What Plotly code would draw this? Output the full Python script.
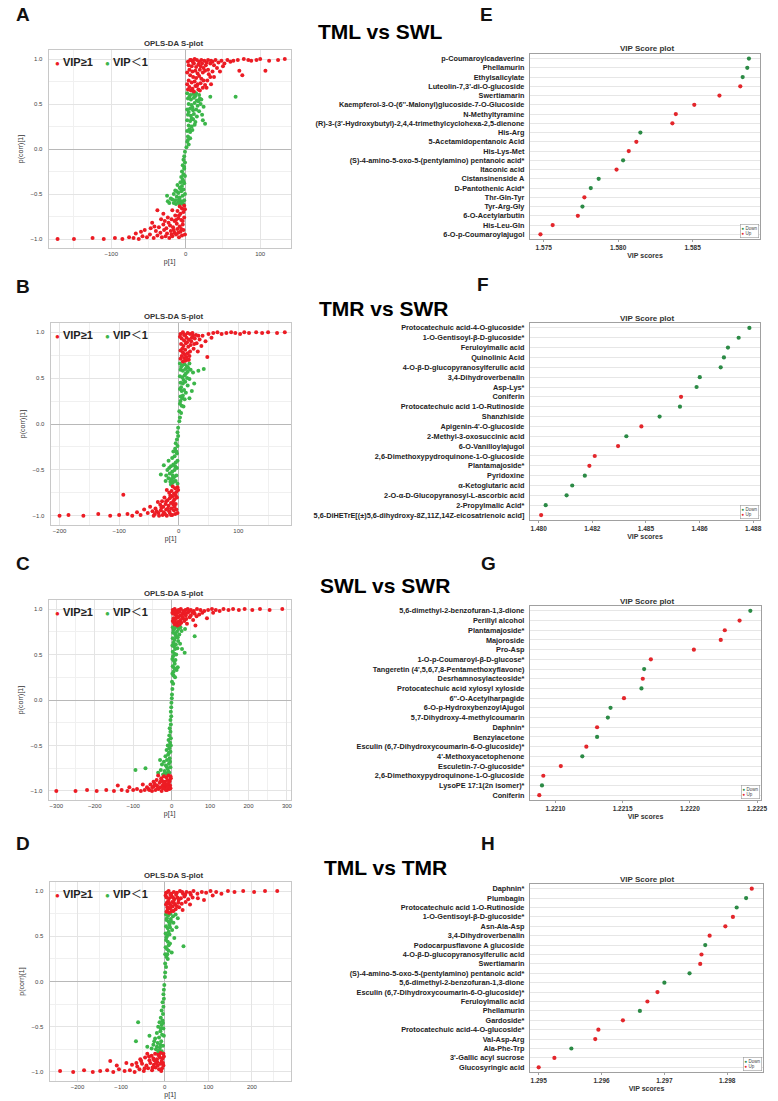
import plotly.graph_objects as go

W, H = 778, 1101
FONT = "Liberation Sans, Arial, Noto Sans CJK SC, sans-serif"
RED = "#ec1c24"
GREEN = "#3cb64a"
VRED = "#e3262b"
VGREEN = "#2b8a45"

# ---------------- S-plot data (p[1], p(corr)[1]) ----------------
A_red = [(3,0.97),(6,0.99),(9,0.98),(12,1.0),(15,0.99),(18,0.97),(21,0.99),(25,0.98),(28,0.96),(4,0.93),
         (8,0.92),(11,0.95),(14,0.91),(17,0.94),(20,0.92),(24,0.9),(27,0.93),(5,0.88),(9,0.86),(13,0.87),
         (16,0.84),(19,0.88),(23,0.85),(6,0.82),(10,0.8),(14,0.79),(18,0.81),(21,0.78),(4,0.76),(8,0.74),
         (12,0.75),(16,0.72),(20,0.73),(5,0.69),(9,0.67),(13,0.7),(17,0.66),(11,0.64),(7,0.65),(24,0.76),
         (30,0.88),(33,0.95),(36,0.97),(40,0.99),(44,0.96),(48,0.98),(52,0.95),(56,0.99),(60,0.97),(64,0.98),
         (70,0.99),(78,1.0),(84,0.99),(88,0.98),(95,0.99),(100,1.0),(112,0.98),(124,0.99),(133,1.0),(72,0.87),
         (76,0.82),(107,0.87),(42,0.9),(46,0.86),(38,0.8),(50,0.92),(34,0.72),(28,0.68),
         (30,0.99),(34,0.98),(38,0.93),(26,0.87),(31,0.83),(36,0.86),(22,0.95),(2,0.85),(2,0.72),(26,0.71),
         (19,0.65),(10,0.96),(7,0.99),(15,0.7),(23,0.68),(3,0.66),(29,0.76),(33,0.8),
         (-2,-0.63),(-5,-0.66),(-8,-0.64),(-3,-0.7),(-7,-0.72),(-11,-0.69),(-14,-0.74),(-2,-0.76),(-6,-0.79),(-10,-0.77),
         (-15,-0.8),(-19,-0.78),(-23,-0.82),(-4,-0.84),(-8,-0.86),(-12,-0.83),(-17,-0.87),(-21,-0.85),(-26,-0.88),(-30,-0.84),
         (-3,-0.9),(-7,-0.92),(-11,-0.89),(-15,-0.93),(-20,-0.91),(-25,-0.94),(-29,-0.9),(-34,-0.93),(-5,-0.96),(-9,-0.98),
         (-13,-0.95),(-18,-0.97),(-22,-0.99),(-27,-0.97),(-32,-0.98),(-38,-0.96),(-43,-0.99),(-36,-0.87),(-40,-0.91),(-48,-0.95),
         (-52,-0.98),(-58,-0.97),(-63,-1.0),(-70,-0.99),(-76,-0.98),(-85,-1.0),(-95,-0.99),(-110,-1.0),(-125,-0.99),(-150,-1.0),
         (-172,-1.0),(-45,-0.82),(-55,-0.9),(-24,-0.76),(-18,-0.68),(-38,-0.68),(-30,-0.72),
         (-1,-0.67),(-4,-0.8),(-9,-0.74),(-13,-0.79),(-16,-0.9),(-1,-0.95),(-28,-0.8),(-33,-0.78),(-42,-0.86),(-47,-0.88),
         (-60,-0.92),(-67,-0.94),(-19,-0.95),(-6,-0.89),(-10,-0.93)]
A_green = [(2,0.62),(6,0.6),(10,0.61),(14,0.62),(18,0.6),(3,0.56),(7,0.55),(11,0.57),(15,0.54),(19,0.56),
           (4,0.5),(8,0.49),(12,0.51),(16,0.48),(20,0.5),(2,0.44),(6,0.45),(10,0.43),(14,0.44),(18,0.42),
           (3,0.38),(7,0.37),(11,0.39),(15,0.36),(2,0.32),(6,0.31),(10,0.33),(13,0.3),(4,0.26),(8,0.25),
           (12,0.27),(2,0.2),(6,0.19),(9,0.21),(3,0.14),(6,0.12),(2,0.08),(4,0.05),(1,0.02),(23,0.32),
           (26,0.28),(22,0.38),(33,0.58),(67,0.58),(24,0.47),(21,0.55),
           (5,0.58),(13,0.59),(17,0.53),(9,0.46),(4,0.41),(8,0.34),(5,0.22),(3,0.1),
           (-1,-0.03),(-2,-0.08),(-3,-0.12),(-1,-0.15),(-4,-0.18),(-2,-0.22),(-5,-0.25),(-3,-0.28),(-6,-0.31),(-1,-0.3),
           (-4,-0.34),(-7,-0.37),(-2,-0.38),(-5,-0.41),(-8,-0.43),(-3,-0.45),(-6,-0.47),(-10,-0.49),(-1,-0.5),(-4,-0.52),
           (-8,-0.54),(-12,-0.53),(-2,-0.57),(-6,-0.58),(-10,-0.59),(-14,-0.57),(-18,-0.56),(-3,-0.61),(-8,-0.62),(-13,-0.61),
           (-16,-0.5),(-20,-0.55),(-24,-0.58),(-11,-0.4),(-14,-0.46),(-25,-0.52),(-22,-0.6),
           (-2,-0.2),(-3,-0.36),(-7,-0.44),(-9,-0.56),(-5,-0.6),(-16,-0.6),(-12,-0.47)]

B_red = [(3,0.98),(7,1.0),(11,0.97),(15,0.99),(19,0.98),(24,0.96),(5,0.93),(9,0.91),(13,0.94),(17,0.92),
         (21,0.9),(27,0.93),(4,0.87),(8,0.85),(12,0.88),(16,0.84),(20,0.86),(3,0.8),(7,0.78),(11,0.81),
         (15,0.77),(19,0.79),(5,0.74),(9,0.72),(13,0.73),(17,0.7),(7,0.68),(11,0.69),(25,0.82),(30,0.88),
         (35,0.92),(32,0.79),(38,0.85),(45,0.9),(40,0.96),(50,0.98),(58,0.99),(65,1.0),(72,0.98),(80,0.99),
         (88,1.0),(95,0.99),(103,0.98),(110,1.0),(118,0.99),(130,1.0),(140,0.99),(150,1.0),(165,0.99),(178,1.0),
         (48,0.73),(55,0.94),
         (2,0.95),(9,0.97),(23,0.99),(29,0.97),(14,0.89),(22,0.94),(6,0.82),(18,0.74),(10,0.76),(3,0.71),
         (26,0.87),(33,0.96),(15,0.7),
         (-2,-0.69),(-6,-0.7),(-10,-0.68),(-4,-0.74),(-8,-0.76),(-12,-0.73),(-16,-0.75),(-20,-0.72),(-3,-0.8),(-7,-0.82),
         (-11,-0.79),(-15,-0.81),(-19,-0.83),(-24,-0.8),(-28,-0.84),(-5,-0.87),(-9,-0.88),(-13,-0.86),(-17,-0.89),(-22,-0.87),
         (-26,-0.9),(-31,-0.88),(-35,-0.85),(-4,-0.93),(-8,-0.94),(-12,-0.92),(-16,-0.95),(-21,-0.93),(-25,-0.96),(-30,-0.94),
         (-34,-0.97),(-39,-0.92),(-6,-0.98),(-11,-0.99),(-15,-0.97),(-20,-1.0),(-27,-0.99),(-33,-1.0),(-40,-0.98),(-44,-0.95),
         (-48,-0.9),(-52,-0.97),(-58,-0.93),(-64,-0.99),(-70,-0.96),(-78,-1.0),(-86,-0.98),(-93,-0.77),(-100,-0.99),(-115,-1.0),
         (-135,-0.98),(-160,-1.0),(-185,-0.99),(-200,-1.0),
         (-1,-0.72),(-5,-0.78),(-14,-0.78),(-9,-0.84),(-18,-0.92),(-2,-0.97),(-23,-0.98),(-29,-0.91),(-37,-0.95),(-42,-1.0),
         (-13,-0.99),(-7,-0.9),(-21,-0.84)]
B_green = [(2,0.66),(6,0.64),(10,0.65),(14,0.63),(18,0.66),(3,0.59),(7,0.58),(11,0.6),(15,0.57),(20,0.59),
           (24,0.56),(2,0.52),(6,0.51),(10,0.53),(14,0.5),(18,0.49),(3,0.45),(7,0.44),(11,0.46),(15,0.42),
           (2,0.38),(5,0.36),(9,0.37),(12,0.34),(3,0.3),(6,0.28),(10,0.27),(2,0.22),(5,0.2),(8,0.19),
           (1,0.14),(4,0.12),(2,0.07),(1,0.03),(42,0.6),(33,0.58),(26,0.44),(22,0.36),(18,0.28),
           (4,0.62),(12,0.55),(16,0.61),(8,0.48),(4,0.4),(7,0.31),(3,0.25),
           (-1,-0.04),(-2,-0.09),(-1,-0.13),(-3,-0.17),(-5,-0.21),(-2,-0.24),(-6,-0.27),(-9,-0.3),(-3,-0.32),(-7,-0.35),
           (-11,-0.37),(-2,-0.4),(-5,-0.42),(-9,-0.44),(-13,-0.46),(-3,-0.48),(-7,-0.5),(-11,-0.52),(-15,-0.54),(-19,-0.5),
           (-4,-0.56),(-8,-0.58),(-12,-0.6),(-17,-0.59),(-21,-0.56),(-5,-0.62),(-10,-0.64),(-14,-0.63),(-2,-0.65),(-25,-0.45),
           (-17,-0.4),(-30,-0.55),(-22,-0.62),
           (-4,-0.3),(-6,-0.46),(-10,-0.56),(-16,-0.48),(-8,-0.62),(-13,-0.66)]

C_red = [(3,0.99),(8,1.0),(13,0.98),(18,0.99),(24,1.0),(30,0.98),(36,0.99),(42,1.0),(50,0.99),(58,0.98),
         (66,1.0),(75,0.99),(85,0.98),(95,0.99),(105,1.0),(115,0.99),(125,0.98),(135,1.0),(148,0.99),(160,1.0),
         (175,0.99),(190,1.0),(210,0.99),(230,1.0),(255,0.99),(288,1.0),(4,0.95),(10,0.94),(16,0.96),(22,0.93),
         (28,0.95),(35,0.94),(42,0.96),(50,0.93),(60,0.95),(72,0.94),(5,0.9),(11,0.89),(17,0.91),(23,0.88),
         (30,0.9),(38,0.89),(47,0.91),(6,0.85),(12,0.84),(18,0.86),(25,0.85),(33,0.87),(8,0.83),(15,0.82),
         (40,0.84),(56,0.88),(92,0.9),(108,0.96),(62,0.82),
         (2,0.96),(7,0.97),(12,0.93),(20,0.97),(27,0.92),(33,0.97),(45,0.97),(55,0.96),(3,0.87),(9,0.86),
         (21,0.83),(14,0.91),(37,0.93),(65,0.92),(80,0.96),
         (-3,-0.84),(-8,-0.83),(-14,-0.85),(-20,-0.84),(-27,-0.86),(-35,-0.83),(-5,-0.89),(-11,-0.88),(-17,-0.9),(-24,-0.89),
         (-31,-0.91),(-39,-0.88),(-47,-0.9),(-4,-0.94),(-10,-0.93),(-16,-0.95),(-23,-0.94),(-30,-0.96),(-38,-0.94),(-46,-0.95),
         (-55,-0.93),(-64,-0.96),(-6,-0.98),(-12,-0.99),(-19,-0.97),(-26,-1.0),(-34,-0.98),(-42,-0.99),(-51,-1.0),(-60,-0.98),
         (-70,-0.99),(-80,-1.0),(-90,-0.98),(-100,-0.99),(-115,-1.0),(-130,-0.99),(-150,-1.0),(-170,-0.99),(-195,-1.0),(-220,-0.99),
         (-250,-1.0),(-300,-1.0),(-75,-0.93),(-110,-0.96),(-140,-0.94),
         (-2,-0.86),(-7,-0.91),(-13,-0.93),(-20,-0.92),(-9,-0.96),(-15,-0.99),(-22,-0.97),(-28,-0.89),(-36,-0.97),(-44,-0.92),
         (-3,-0.97),(-58,-0.99),(-50,-0.96)]
C_green = [(3,0.8),(8,0.79),(13,0.81),(18,0.78),(23,0.8),(4,0.74),(9,0.73),(14,0.75),(20,0.72),(26,0.76),
           (3,0.68),(7,0.66),(12,0.69),(17,0.65),(2,0.6),(6,0.59),(11,0.61),(15,0.57),(3,0.53),(7,0.51),
           (12,0.5),(2,0.45),(6,0.43),(10,0.44),(3,0.37),(7,0.35),(13,0.33),(2,0.29),(5,0.27),(9,0.25),
           (1,0.2),(4,0.18),(2,0.12),(1,0.06),(0.5,0.02),(60,0.7),(34,0.52),(22,0.62),(35,0.78),(16,0.36),(27,0.56),
           (5,0.77),(11,0.71),(16,0.69),(5,0.63),(9,0.56),(4,0.48),(8,0.4),(5,0.31),
           (-0.5,-0.03),(-1,-0.08),(-2,-0.13),(-1,-0.18),(-3,-0.22),(-2,-0.27),(-5,-0.31),(-3,-0.35),(-6,-0.39),(-2,-0.42),
           (-8,-0.44),(-4,-0.47),(-10,-0.5),(-6,-0.53),(-13,-0.55),(-3,-0.57),(-9,-0.6),(-16,-0.62),(-5,-0.64),(-12,-0.66),
           (-20,-0.68),(-7,-0.7),(-15,-0.72),(-25,-0.71),(-3,-0.74),(-10,-0.76),(-18,-0.78),(-28,-0.77),(-6,-0.8),(-14,-0.81),
           (-22,-0.82),(-94,-0.77),(-68,-0.75),(-35,-0.8),(-30,-0.66),
           (-2,-0.5),(-7,-0.58),(-4,-0.68),(-12,-0.74),(-8,-0.79),(-17,-0.8)]

D_red = [(3,0.98),(9,1.0),(15,0.97),(21,0.99),(28,0.98),(35,1.0),(42,0.97),(50,0.99),(58,0.98),(66,1.0),
         (75,0.97),(85,0.99),(95,0.98),(105,1.0),(118,0.99),(130,0.97),(145,1.0),(160,0.99),(180,1.0),(205,0.99),
         (230,1.0),(258,1.0),(4,0.93),(10,0.92),(16,0.94),(22,0.91),(29,0.93),(37,0.92),(45,0.94),(54,0.91),
         (64,0.93),(76,0.92),(5,0.87),(11,0.86),(17,0.88),(24,0.85),(31,0.87),(39,0.86),(48,0.88),(6,0.82),
         (12,0.81),(18,0.83),(25,0.8),(33,0.82),(4,0.77),(10,0.76),(16,0.78),(41,0.79),(58,0.85),(90,0.9),(110,0.95),
         (2,0.95),(7,0.99),(13,0.96),(19,0.93),(26,0.96),(32,0.9),(40,0.99),(8,0.89),(14,0.84),(21,0.87),
         (28,0.83),(3,0.85),(7,0.8),(20,0.78),(47,0.96),(60,0.96),
         (-3,-0.8),(-9,-0.79),(-15,-0.81),(-22,-0.8),(-30,-0.82),(-40,-0.8),(-5,-0.85),(-11,-0.84),(-18,-0.86),(-26,-0.85),
         (-35,-0.87),(-45,-0.84),(-56,-0.86),(-4,-0.9),(-10,-0.91),(-17,-0.89),(-25,-0.92),(-33,-0.9),(-42,-0.93),(-52,-0.91),
         (-63,-0.94),(-75,-0.92),(-6,-0.96),(-13,-0.97),(-21,-0.95),(-29,-0.98),(-38,-0.96),(-48,-0.99),(-58,-0.97),(-69,-1.0),
         (-80,-0.98),(-92,-0.99),(-105,-0.97),(-118,-1.0),(-132,-0.98),(-148,-0.99),(-165,-1.0),(-185,-0.98),(-210,-1.0),(-240,-0.99),
         (-88,-0.9),(-110,-0.93),(-125,-0.88),
         (-2,-0.83),(-7,-0.88),(-13,-0.82),(-20,-0.9),(-28,-0.95),(-8,-0.99),(-16,-0.93),(-36,-0.83),(-46,-0.96),(-54,-0.88),
         (-3,-0.93),(-24,-0.87),(-65,-0.9)]
D_green = [(3,0.74),(8,0.73),(13,0.75),(19,0.72),(25,0.74),(4,0.68),(9,0.66),(14,0.69),(20,0.65),(3,0.61),
           (7,0.59),(12,0.6),(17,0.57),(2,0.53),(6,0.51),(11,0.52),(3,0.46),(7,0.44),(12,0.42),(2,0.38),
           (5,0.36),(9,0.34),(1,0.3),(4,0.27),(7,0.25),(1,0.2),(3,0.16),(1,0.1),(0.5,0.05),(43,0.39),
           (30,0.7),(22,0.48),(16,0.32),(27,0.6),
           (5,0.7),(11,0.63),(15,0.66),(9,0.55),(4,0.49),(9,0.4),(6,0.3),
           (-1,-0.04),(-2,-0.09),(-3,-0.14),(-2,-0.19),(-5,-0.23),(-3,-0.28),(-7,-0.32),(-4,-0.36),(-9,-0.4),(-5,-0.43),
           (-12,-0.45),(-7,-0.48),(-15,-0.5),(-3,-0.52),(-10,-0.55),(-18,-0.57),(-6,-0.59),(-13,-0.62),(-22,-0.63),(-8,-0.66),
           (-16,-0.68),(-26,-0.7),(-4,-0.71),(-11,-0.73),(-20,-0.75),(-30,-0.74),(-7,-0.77),(-15,-0.78),(-61,-0.45),(-66,-0.66),
           (-35,-0.6),(-40,-0.72),
           (-4,-0.46),(-9,-0.52),(-2,-0.6),(-10,-0.7),(-18,-0.72),(-24,-0.66),(-12,-0.76)]

# ---------------- VIP score data (top row first) ----------------
E_names = ["p-Coumaroylcadaverine", "Phellamurin", "Ethylsalicylate", "Luteolin-7,3'-di-O-glucoside", "Swertiamarin",
           "Kaempferol-3-O-(6''-Malonyl)glucoside-7-O-Glucoside", "N-Methyltyramine",
           "(R)-3-(3'-Hydroxybutyl)-2,4,4-trimethylcyclohexa-2,5-dienone", "His-Arg", "5-Acetamidopentanoic Acid",
           "His-Lys-Met", "(S)-4-amino-5-oxo-5-(pentylamino) pentanoic acid*", "Itaconic acid", "Cistansinenside A",
           "D-Pantothenic Acid*", "Thr-Gln-Tyr", "Tyr-Arg-Gly", "6-O-Acetylarbutin", "His-Leu-Gln", "6-O-p-Coumaroylajugol"]
E_vip = [1.58878, 1.58867, 1.58836, 1.58820, 1.58680, 1.58511, 1.58387, 1.58364, 1.58149, 1.58122,
         1.58071, 1.58033, 1.57989, 1.57869, 1.57816, 1.57773, 1.57760, 1.57729, 1.57560, 1.57478]
E_dir = ["Down", "Down", "Down", "Up", "Up", "Up", "Up", "Up", "Down", "Up",
         "Up", "Down", "Up", "Down", "Down", "Up", "Down", "Up", "Up", "Up"]

F_names = ["Protocatechuic acid-4-O-glucoside*", "1-O-Gentisoyl-β-D-glucoside*", "Feruloylmalic acid", "Quinolinic Acid",
           "4-O-β-D-glucopyranosylferulic acid", "3,4-Dihydroverbenalin", "Asp-Lys*", "Coniferin",
           "Protocatechuic acid 1-O-Rutinoside", "Shanzhiside", "Apigenin-4'-O-glucoside", "2-Methyl-3-oxosuccinic acid",
           "6-O-Vanilloylajugol", "2,6-Dimethoxypydroquinone-1-O-glucoside", "Plantamajoside*", "Pyridoxine",
           "α-Ketoglutaric acid", "2-O-α-D-Glucopyranosyl-L-ascorbic acid", "2-Propylmalic Acid*",
           "5,6-DiHETrE[(±)5,6-dihydroxy-8Z,11Z,14Z-eicosatrienoic acid]"]
F_vip = [1.48786, 1.48746, 1.48706, 1.48691, 1.48679, 1.48601, 1.48589, 1.48531, 1.48527, 1.48451,
         1.48383, 1.48327, 1.48296, 1.48209, 1.48189, 1.48172, 1.48125, 1.48104, 1.48026, 1.48009]
F_dir = ["Down", "Down", "Down", "Down", "Down", "Down", "Down", "Up", "Down", "Down",
         "Up", "Down", "Up", "Up", "Up", "Down", "Down", "Down", "Down", "Up"]
F_ticks = [1.480, 1.482, 1.484, 1.486, 1.488]
F_ticktext = ["1.480", "1.482", "1.485", "1.486", "1.488"]

G_names = ["5,6-dimethyl-2-benzofuran-1,3-dione", "Perillyl alcohol", "Plantamajoside*", "Majoroside", "Pro-Asp",
           "1-O-p-Coumaroyl-β-D-glucose*", "Tangeretin (4',5,6,7,8-Pentamethoxyflavone)", "Desrhamnosylacteoside*",
           "Protocatechuic acid xylosyl xyloside", "6''-O-Acetylharpagide", "6-O-p-HydroxybenzoylAjugol",
           "5,7-Dihydroxy-4-methylcoumarin", "Daphnin*", "Benzylacetone",
           "Esculin (6,7-Dihydroxycoumarin-6-O-glucoside)*", "4'-Methoxyacetophenone", "Esculetin-7-O-glucoside*",
           "2,6-Dimethoxypydroquinone-1-O-glucoside", "LysoPE 17:1(2n isomer)*", "Coniferin"]
G_vip = [1.22245, 1.22237, 1.22226, 1.22223, 1.22203, 1.22171, 1.22166, 1.22165, 1.22164, 1.22151,
         1.22141, 1.22139, 1.22131, 1.22131, 1.22123, 1.22120, 1.22104, 1.22091, 1.22090, 1.22088]
G_dir = ["Down", "Up", "Up", "Up", "Up", "Up", "Down", "Up", "Down", "Up",
         "Down", "Down", "Up", "Down", "Up", "Down", "Up", "Up", "Down", "Up"]

H_names = ["Daphnin*", "Plumbagin", "Protocatechuic acid 1-O-Rutinoside", "1-O-Gentisoyl-β-D-glucoside*", "Asn-Ala-Asp",
           "3,4-Dihydroverbenalin", "Podocarpusflavone A glucoside", "4-O-β-D-glucopyranosylferulic acid", "Swertiamarin",
           "(S)-4-amino-5-oxo-5-(pentylamino) pentanoic acid*", "5,6-dimethyl-2-benzofuran-1,3-dione",
           "Esculin (6,7-Dihydroxycoumarin-6-O-glucoside)*", "Feruloylmalic acid", "Phellamurin", "Gardoside*",
           "Protocatechuic acid-4-O-glucoside*", "Val-Asp-Arg", "Ala-Phe-Trp", "3'-Gallic acyl sucrose", "Glucosyringic acid"]
H_vip = [1.29839, 1.29830, 1.29815, 1.29809, 1.29797, 1.29772, 1.29765, 1.29759, 1.29757, 1.29740,
         1.29700, 1.29689, 1.29673, 1.29661, 1.29634, 1.29595, 1.29590, 1.29552, 1.29525, 1.29500]
H_dir = ["Up", "Down", "Down", "Up", "Up", "Up", "Down", "Up", "Up", "Down",
         "Down", "Up", "Up", "Down", "Up", "Up", "Up", "Down", "Up", "Up"]


def xd(l, r):
    return [l / W, r / W]


def yd(t, b):
    return [1 - b / H, 1 - t / H]


def px(x):
    return x / W


def py(y):
    return 1 - y / H


fig = go.Figure()
annotations = []

# ---------------- S-plots ----------------
splots = [
    dict(red=A_red, green=A_green, box=(49, 293, 50, 248), xr=[-184, 141]),
    dict(red=B_red, green=B_green, box=(51, 293, 323, 525), xr=[-215, 188]),
    dict(red=C_red, green=C_green, box=(49, 293, 600, 800), xr=[-320, 310]),
    dict(red=D_red, green=D_green, box=(50, 293, 882, 1081), xr=[-264, 289]),
]
for i, sp in enumerate(splots):
    n = i + 1
    xa, ya = ("x", "y") if n == 1 else (f"x{n}", f"y{n}")
    xk, yk = ("xaxis", "yaxis") if n == 1 else (f"xaxis{n}", f"yaxis{n}")
    l, r, t, b = sp["box"]
    for pts, col in ((sp["green"], GREEN), (sp["red"], RED)):
        fig.add_trace(go.Scatter(x=[p[0] for p in pts], y=[p[1] for p in pts], mode="markers",
                                 marker=dict(color=col, size=4, line=dict(width=0)),
                                 xaxis=xa, yaxis=ya, showlegend=False, hoverinfo="skip"))
    fig.layout[xk] = dict(domain=xd(l, r), range=sp["xr"], anchor=ya, tick0=0, dtick=100,
                          showgrid=True, gridcolor="#e4e4e4", gridwidth=1,
                          minor=dict(tick0=0, dtick=50, showgrid=True, gridcolor="#f0f0f0", gridwidth=1),
                          zeroline=True, zerolinecolor="#b8b8b8", zerolinewidth=1,
                          showline=True, linecolor="#c8c8c8", linewidth=1, mirror=True, ticks="",
                          tickfont=dict(size=6, color="#444", family=FONT),
                          title=dict(text="p[1]", font=dict(size=7, color="#333", family=FONT), standoff=2))
    fig.layout[yk] = dict(domain=yd(t, b), range=[-1.1, 1.1], anchor=xa, tick0=0, dtick=0.5, tickformat=".1f",
                          showgrid=True, gridcolor="#e4e4e4", gridwidth=1,
                          minor=dict(tick0=0, dtick=0.25, showgrid=True, gridcolor="#f0f0f0", gridwidth=1),
                          zeroline=True, zerolinecolor="#b8b8b8", zerolinewidth=1,
                          showline=True, linecolor="#c8c8c8", linewidth=1, mirror=True, ticks="",
                          ticklabelstandoff=4,
                          tickfont=dict(size=6, color="#444", family=FONT),
                          title=dict(text="p(corr)[1]", font=dict(size=7, color="#333", family=FONT), standoff=6))
    annotations.append(dict(text="<b>OPLS-DA S-plot</b>", x=px(175), y=py(t - 7), xref="paper", yref="paper",
                            showarrow=False, xanchor="center", yanchor="middle",
                            font=dict(size=7.8, color="#333", family=FONT)))
    ly = t + 12
    annotations.append(dict(text=f"<span style='color:{RED};font-size:8px'>●</span> <b>VIP≥1</b>",
                            x=px(53), y=py(ly), xref="paper", yref="paper", showarrow=False,
                            xanchor="left", yanchor="middle", font=dict(size=11, color="#222", family=FONT)))
    annotations.append(dict(text=f"<span style='color:{GREEN};font-size:8px'>●</span> <b>VIP</b>＜<b>1</b>",
                            x=px(104), y=py(ly), xref="paper", yref="paper", showarrow=False,
                            xanchor="left", yanchor="middle", font=dict(size=11, color="#222", family=FONT)))

# ---------------- VIP score plots ----------------
vips = [
    dict(names=E_names, vip=E_vip, d=E_dir, box=(534, 766, 54, 239), xr=[1.57407, 1.58953],
         tv=[1.575, 1.580, 1.585], tt=["1.575", "1.580", "1.585"]),
    dict(names=F_names, vip=F_vip, d=F_dir, box=(534, 766, 323, 520), xr=[1.47967, 1.48826],
         tv=F_ticks, tt=F_ticktext),
    dict(names=G_names, vip=G_vip, d=G_dir, box=(534, 767, 606, 800), xr=[1.22081, 1.22253],
         tv=[1.2210, 1.2215, 1.2220, 1.2225], tt=["1.2210", "1.2215", "1.2220", "1.2225"]),
    dict(names=H_names, vip=H_vip, d=H_dir, box=(534, 769, 884, 1072), xr=[1.29486, 1.29857],
         tv=[1.295, 1.296, 1.297, 1.298], tt=["1.295", "1.296", "1.297", "1.298"]),
]
for i, vp in enumerate(vips):
    n = i + 5
    xa, ya = f"x{n}", f"y{n}"
    xk, yk = f"xaxis{n}", f"yaxis{n}"
    l, r, t, b = vp["box"]
    cols = [VGREEN if d == "Down" else VRED for d in vp["d"]]
    fig.add_trace(go.Scatter(x=vp["vip"], y=vp["names"], mode="markers",
                             marker=dict(color=cols, size=4.2, line=dict(width=0)),
                             xaxis=xa, yaxis=ya, showlegend=False, hoverinfo="skip"))
    fig.layout[xk] = dict(domain=xd(l, r), range=vp["xr"], anchor=ya, tickmode="array",
                          tickvals=vp["tv"], ticktext=vp["tt"], showgrid=False, zeroline=False,
                          showline=True, linecolor="#a0a0a0", linewidth=1, mirror=True,
                          ticks="outside", ticklen=2, tickcolor="#a0a0a0",
                          tickfont=dict(size=6.5, color="#333", family=FONT, weight="bold"),
                          title=dict(text="<b>VIP scores</b>", font=dict(size=7, color="#333", family=FONT),
                                     standoff=3))
    fig.layout[yk] = dict(domain=yd(t, b), anchor=xa, type="category", categoryorder="array",
                          categoryarray=vp["names"], range=[19.5, -0.5],
                          showgrid=True, gridcolor="#e6e6e6", gridwidth=1, zeroline=False,
                          showline=True, linecolor="#a0a0a0", linewidth=1, mirror=True, ticks="",
                          ticklabelstandoff=3,
                          tickfont=dict(size=7.3, color="#222", family=FONT, weight="bold"))
    annotations.append(dict(text="<b>VIP Score plot</b>", x=px(652), y=py(t - 5), xref="paper", yref="paper",
                            showarrow=False, xanchor="center", yanchor="middle",
                            font=dict(size=8, color="#333", family=FONT)))
    annotations.append(dict(text=f"<span style='color:{VGREEN}'>●</span> Down<br><span style='color:{VRED}'>●</span> Up",
                            x=px(r - 1), y=py(b - 1), xref="paper", yref="paper", showarrow=False,
                            xanchor="right", yanchor="bottom", align="left",
                            bordercolor="#999", borderwidth=0.6, borderpad=1, bgcolor="white",
                            font=dict(size=4.5, color="#444", family=FONT)))

# ---------------- panel letters and comparison titles ----------------
letters = [("A", 23, 15), ("B", 23, 287), ("C", 23, 563), ("D", 23, 843),
           ("E", 490, 15), ("F", 487, 285), ("G", 492, 563), ("H", 492, 843)]
for txt, x, y in letters:
    annotations.append(dict(text=f"<b>{txt}</b>", x=px(x), y=py(y), xref="paper", yref="paper",
                            showarrow=False, xanchor="center", yanchor="middle",
                            font=dict(size=19, color="#111", family=FONT)))
titles = [("TML vs SWL", 383, 32), ("TMR vs SWR", 387, 308), ("SWL vs SWR", 388, 585), ("TML vs TMR", 388, 867)]
for txt, x, y in titles:
    annotations.append(dict(text=f"<b>{txt}</b>", x=px(x), y=py(y), xref="paper", yref="paper",
                            showarrow=False, xanchor="center", yanchor="middle",
                            font=dict(size=21, color="#000", family=FONT)))

fig.update_layout(width=W, height=H, margin=dict(l=0, r=0, t=0, b=0),
                  paper_bgcolor="white", plot_bgcolor="white", showlegend=False,
                  font=dict(family=FONT), annotations=annotations)

fig.write_html("out.html")
